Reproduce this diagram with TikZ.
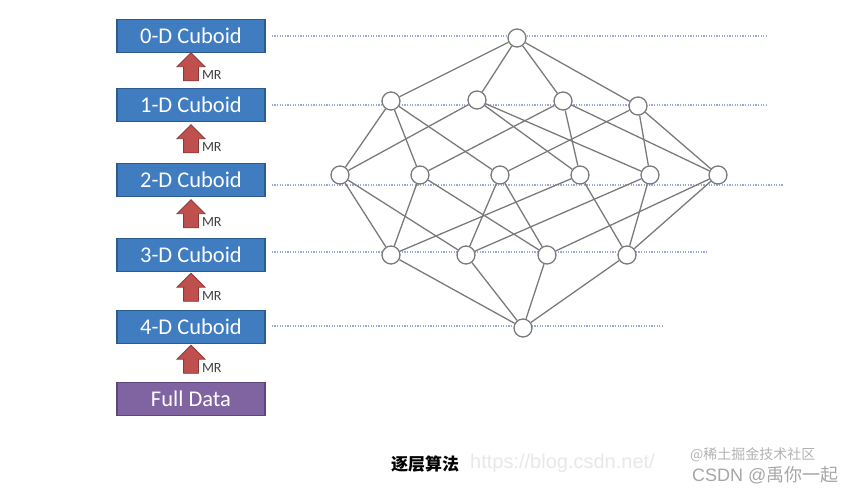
\documentclass[tikz,border=0pt]{standalone}
\usepackage{fontspec}
\setmainfont{Carlito}
\newfontfamily\cjk{Noto Sans CJK SC}
\newfontfamily\wmfont{Liberation Sans}
\usepackage{tikz}
\usetikzlibrary{positioning,shapes.arrows,calc}

\definecolor{cubeblue}{HTML}{3F7CC0}
\definecolor{cubeedge}{HTML}{2C5C8F}
\definecolor{datapurple}{HTML}{8063A1}
\definecolor{dataedge}{HTML}{5C4778}
\definecolor{mrred}{HTML}{C0504D}
\definecolor{mredge}{HTML}{8C3A38}
\definecolor{guideblue}{HTML}{9AA9D6}
\definecolor{latgray}{HTML}{7A7A7A}

\begin{document}
\begin{tikzpicture}[
    x=1pt, y=-1pt,
    cuboid/.style={rectangle, draw=cubeedge, line width=1.4pt, fill=cubeblue, text=white,
        minimum width=148pt, minimum height=33pt, inner sep=0pt, font=\fontsize{22.5}{25}\selectfont},
    fulldata/.style={cuboid, draw=dataedge, fill=datapurple},
    mrarrow/.style={single arrow, draw=mredge, fill=mrred, line width=0.8pt, inner sep=7pt,
        minimum height=28pt, single arrow head extend=6.5pt, shape border rotate=90},
    mrlabel/.style={font=\fontsize{14}{16}\selectfont, text=black!75, anchor=west, inner sep=0pt},
    guide/.style={guideblue, line width=1.2pt, dash pattern=on 1.3pt off 1.3pt},
    vert/.style={circle, draw=latgray, line width=1.3pt, fill=white, minimum size=18pt, inner sep=0pt},
    edge/.style={latgray, line width=1.3pt}
]
    \useasboundingbox (0,0) rectangle (866,494);

    % Cuboid stack
    \node[cuboid] (c0) at (191,36) {0-D Cuboid};
    \node[cuboid] (c1) at (191,105) {1-D Cuboid};
    \node[cuboid] (c2) at (191,180) {2-D Cuboid};
    \node[cuboid] (c3) at (191,255) {3-D Cuboid};
    \node[cuboid] (c4) at (191,327) {4-D Cuboid};
    \node[fulldata] (full) at (191,399) {Full Data};

    % MR arrows between the levels
    \foreach \lo/\hi/\k in {c1/c0/1, c2/c1/2, c3/c2/3, c4/c3/4, full/c4/5} {
        \node[mrarrow] (mr\k) at ($(\lo.north)!0.5!(\hi.south)$) {};
        \node[mrlabel] (mrt\k) at ([xshift=3pt,yshift=-5pt]mr\k.east) {MR};
    }

    % Dotted guides
    \draw[guide] ([xshift=6pt]c0.east) -- +(496,0);
    \draw[guide] ([xshift=6pt]c1.east) -- +(496,0);
    \draw[guide] ([xshift=6pt,yshift=-5pt]c2.east) -- +(512,0);
    \draw[guide] ([xshift=6pt,yshift=3pt]c3.east) -- +(436,0);
    \draw[guide] ([xshift=6pt,yshift=1pt]c4.east) -- +(391,0);

    % Lattice
    \node[vert] (t) at (517,38) {};
    \node[vert] (a1) at (391,101) {};
    \node[vert] (a2) at (477,100) {};
    \node[vert] (a3) at (563,101) {};
    \node[vert] (a4) at (638,106) {};
    \node[vert] (b1) at (340,175) {};
    \node[vert] (b2) at (420,175) {};
    \node[vert] (b3) at (500,175) {};
    \node[vert] (b4) at (580,175) {};
    \node[vert] (b5) at (650,175) {};
    \node[vert] (b6) at (718,175) {};
    \node[vert] (d1) at (391,255) {};
    \node[vert] (d2) at (466,255) {};
    \node[vert] (d3) at (547,255) {};
    \node[vert] (d4) at (627,255) {};
    \node[vert] (z) at (523,328) {};
    \foreach \u/\v in {t/a1, t/a2, t/a3, t/a4,
            a1/b1, a1/b2, a1/b3, a2/b1, a2/b4, a2/b5,
            a3/b2, a3/b4, a3/b6, a4/b3, a4/b5, a4/b6,
            b1/d1, b1/d2, b2/d1, b2/d3, b3/d2, b3/d3,
            b4/d1, b4/d4, b5/d2, b5/d4, b6/d3, b6/d4,
            d1/z, d2/z, d3/z, d4/z}
        \draw[edge] (\u) -- (\v);

    % Caption and watermark
    \node[font=\cjk\bfseries\fontsize{17}{20}\selectfont] (cap) at (425,464) {逐层算法};
    \node[font=\wmfont\fontsize{20}{22}\selectfont, text=black!9, anchor=west, inner sep=0pt] (url) at (470,463) {https://blog.csdn.net/};
    \node[font=\cjk\fontsize{14}{16}\selectfont, text=black!30, anchor=west, inner sep=0pt] (wm1) at (690,455) {@稀土掘金技术社区};
    \node[font=\wmfont\fontsize{18}{20}\selectfont, text=black!35, anchor=west, inner sep=0pt] (wm2) at (692,475) {CSDN @\cjk 禹你一起};
\end{tikzpicture}
\end{document}
